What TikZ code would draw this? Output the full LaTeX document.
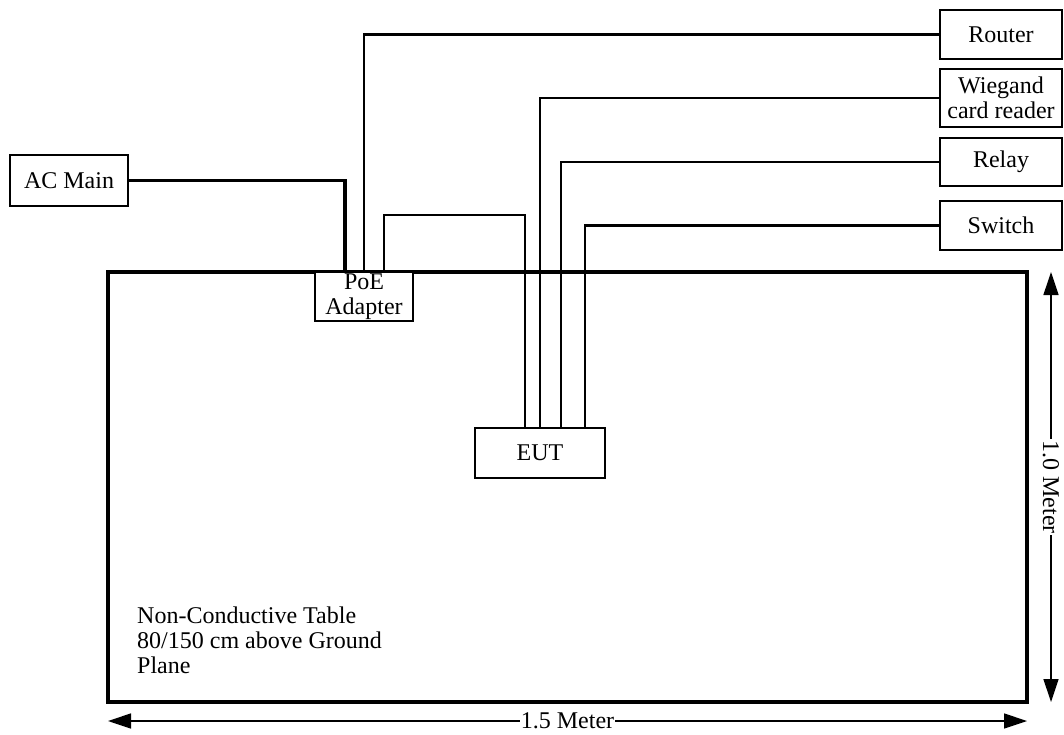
\documentclass[tikz,border=0pt]{standalone}
\usepackage{fontspec}
\setmainfont{Liberation Serif}
\usetikzlibrary{arrows.meta}
\begin{document}
\begin{tikzpicture}[x=1pt,y=-1pt,
    font=\fontsize{24}{25}\selectfont,
    box/.style={draw,line width=1.4pt,fill=white,align=center,inner sep=1pt},
    wire/.style={line width=2.1pt},
    dim/.style={line width=1.5pt,{Triangle[length=23pt,width=15pt]}-{Triangle[length=23pt,width=15pt]}}]
  \useasboundingbox (0,0) rectangle (1064,734);
  % table
  \draw[line width=3.3pt] (108,272) rectangle (1027,702);
  \node[anchor=north west,align=left,inner sep=0] (tabletext) at (137,607)
    {Non-Conductive Table\\80/150 cm above Ground\\Plane};
  % units
  \node[box,minimum width=118pt,minimum height=51pt] (acmain) at (69,180.5) {AC Main};
  \node[box,minimum width=98pt,minimum height=49pt] (poe) at (364,296.5) {PoE\\Adapter};
  \node[box,minimum width=130pt,minimum height=50pt] (eut) at (540,453) {EUT};
  \node[box,minimum width=122pt,minimum height=49pt] (router) at (1001,34.5) {Router};
  \node[box,minimum width=122pt,minimum height=58pt] (wiegand) at (1001,98) {Wiegand\\card reader};
  \node[box,minimum width=122pt,minimum height=48pt] (relay) at (1001,162) {Relay};
  \node[box,minimum width=122pt,minimum height=49pt] (switch) at (1001,225.5) {Switch};
  % cables
  \draw[line width=3.3pt] (acmain.east) -| ([xshift=-19pt]poe.north);
  \draw[wire] (poe.north) |- (router.west);
  \coordinate (bend) at (525,215);
  \draw[wire] ([xshift=20pt]poe.north) |- (bend) -- (bend |- eut.north);
  \draw[wire] (eut.north) |- (wiegand.west);
  \draw[wire] ([xshift=21pt]eut.north) |- (relay.west);
  \draw[wire] ([xshift=45pt]eut.north) |- (switch.west);
  % dimensions
  \coordinate (wl) at (108,721);
  \coordinate (wr) at (1027,721);
  \coordinate (ht) at (1051,272);
  \coordinate (hb) at (1051,702);
  \draw[dim] (wl) -- (wr) node[midway,fill=white,inner sep=1pt] (wlabel) {1.5 Meter};
  \draw[dim] (ht) -- (hb) node[midway,fill=white,inner sep=1pt,rotate=-90] (hlabel) {1.0 Meter};
\end{tikzpicture}
\end{document}
